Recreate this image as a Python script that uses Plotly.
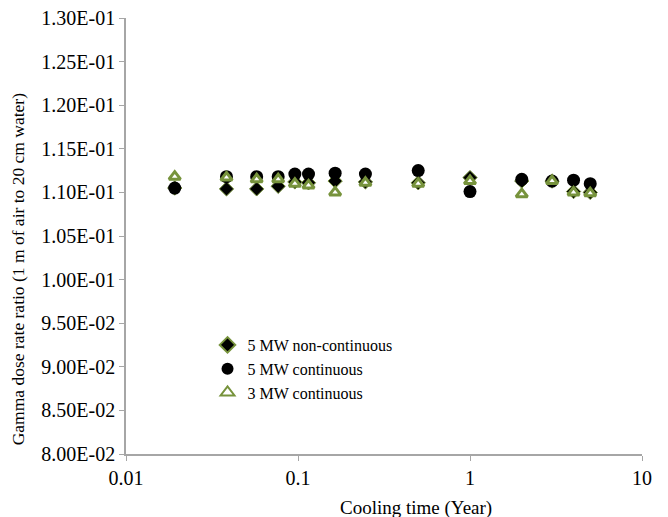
import plotly.graph_objects as go

cooling_time = [0.0192, 0.0384, 0.0575, 0.0767, 0.0959, 0.1151, 0.1644, 0.2466, 0.5, 1, 2, 3, 4, 5]
noncont_5mw = [0.1105, 0.1104, 0.1104, 0.1107, 0.1112, 0.1111, 0.1113, 0.1112, 0.1111, 0.1117, 0.1113, 0.1113, 0.1101, 0.1100]
cont_5mw = [0.1105, 0.1118, 0.1118, 0.1118, 0.1121, 0.1121, 0.1122, 0.1121, 0.1125, 0.1101, 0.1115, 0.1113, 0.1114, 0.1110]
cont_3mw = [0.1118, 0.1117, 0.1115, 0.1115, 0.1110, 0.1108, 0.1100, 0.1111, 0.1110, 0.1113, 0.1098, 0.1113, 0.1100, 0.1099]

y_ticks = [0.080, 0.085, 0.090, 0.095, 0.100, 0.105, 0.110, 0.115, 0.120, 0.125, 0.130]
y_ticktext = ["8.00E-02", "8.50E-02", "9.00E-02", "9.50E-02", "1.00E-01", "1.05E-01",
              "1.10E-01", "1.15E-01", "1.20E-01", "1.25E-01", "1.30E-01"]
x_ticks = [0.01, 0.1, 1, 10]
x_ticktext = ["0.01", "0.1", "1", "10"]

x_title = "Cooling time (Year)"
y_title = "Gamma dose rate ratio (1 m of air to 20 cm water)"

green = "#77933C"
font_family = "Liberation Serif, Times New Roman, serif"

fig = go.Figure()
fig.add_trace(go.Scatter(
    x=cooling_time, y=noncont_5mw, mode="markers", name="5 MW non-continuous",
    marker=dict(symbol="diamond", size=11, color="black", line=dict(color=green, width=1))))
fig.add_trace(go.Scatter(
    x=cooling_time, y=cont_5mw, mode="markers", name="5 MW continuous",
    marker=dict(symbol="circle", size=13, color="black", line=dict(color="black", width=0))))
fig.add_trace(go.Scatter(
    x=cooling_time, y=cont_3mw, mode="markers", name="3 MW continuous",
    marker=dict(symbol="triangle-up", size=10, color="white", line=dict(color=green, width=3))))

fig.update_layout(
    width=660, height=509,
    margin=dict(l=118, r=26, t=10, b=63, autoexpand=False),
    paper_bgcolor="white", plot_bgcolor="white",
    font=dict(family=font_family, size=18, color="black"),
    showlegend=True,
    legend=dict(x=0.158, y=0.289, xanchor="left", yanchor="top",
                bgcolor="rgba(0,0,0,0)", font=dict(size=16, family=font_family),
                tracegroupgap=0, itemsizing="constant"),
    xaxis=dict(type="log", range=[-2, 1], tickvals=x_ticks, ticktext=x_ticktext,
               showgrid=False, zeroline=False, showline=True, linecolor="#a6a6a6", linewidth=1.5,
               ticks="outside", ticklen=5, tickcolor="#a6a6a6", automargin=False,
               ticklabeloverflow="allow", tickfont=dict(size=20)),
    yaxis=dict(range=[0.08, 0.13], tickvals=y_ticks, ticktext=y_ticktext,
               showgrid=False, zeroline=False, showline=True, linecolor="#a6a6a6", linewidth=1.5,
               ticks="outside", ticklen=5, tickcolor="#a6a6a6", automargin=False,
               ticklabeloverflow="allow", tickfont=dict(size=20)),
    annotations=[
        dict(text=x_title, xref="paper", yref="paper", x=0.562, y=-0.124,
             xanchor="center", yanchor="middle", showarrow=False, font=dict(size=19)),
        dict(text=y_title, xref="paper", yref="paper", x=-0.209, y=0.424, textangle=-90,
             xanchor="center", yanchor="middle", showarrow=False, font=dict(size=17.5)),
    ],
)

fig.write_html("out.html")
